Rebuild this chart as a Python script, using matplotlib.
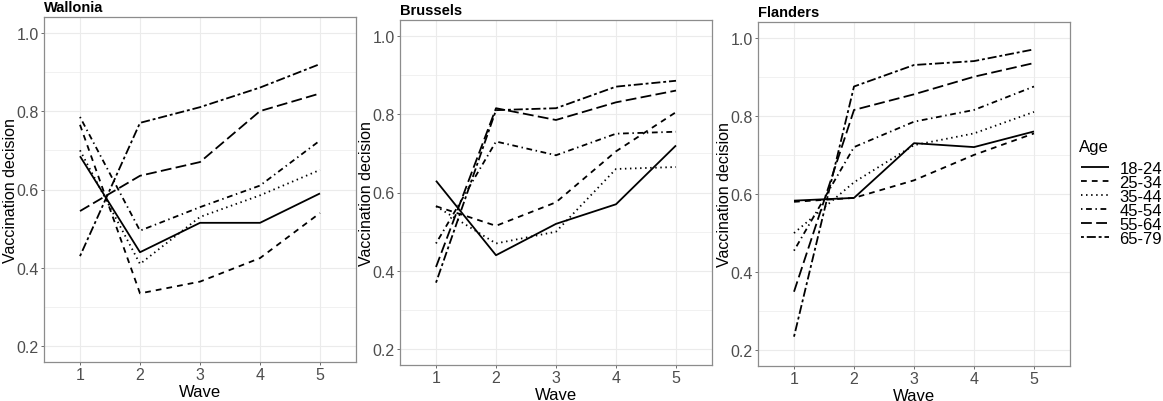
import matplotlib.pyplot as plt
import numpy as np

plt.rcParams['font.family'] = ['Liberation Sans', 'DejaVu Sans']

waves = [1, 2, 3, 4, 5]
ages = ["18-24", "25-34", "35-44", "45-54", "55-64", "65-79"]
regions = ["Wallonia", "Brussels", "Flanders"]

# vaccination decision per age group, waves 1..5
wallonia = {
    "18-24": [0.685, 0.440, 0.515, 0.515, 0.590],
    "25-34": [0.765, 0.335, 0.365, 0.425, 0.540],
    "35-44": [0.700, 0.410, 0.530, 0.585, 0.650],
    "45-54": [0.785, 0.495, 0.555, 0.610, 0.725],
    "55-64": [0.545, 0.635, 0.670, 0.800, 0.845],
    "65-79": [0.430, 0.770, 0.810, 0.860, 0.920],
}
brussels = {
    "18-24": [0.630, 0.440, 0.520, 0.570, 0.720],
    "25-34": [0.565, 0.515, 0.575, 0.705, 0.805],
    "35-44": [0.565, 0.470, 0.500, 0.660, 0.665],
    "45-54": [0.470, 0.730, 0.695, 0.750, 0.755],
    "55-64": [0.410, 0.815, 0.785, 0.830, 0.860],
    "65-79": [0.370, 0.810, 0.815, 0.870, 0.885],
}
flanders = {
    "18-24": [0.583, 0.590, 0.730, 0.720, 0.760],
    "25-34": [0.580, 0.590, 0.635, 0.700, 0.755],
    "35-44": [0.500, 0.630, 0.725, 0.755, 0.810],
    "45-54": [0.455, 0.720, 0.785, 0.815, 0.875],
    "55-64": [0.350, 0.815, 0.855, 0.900, 0.935],
    "65-79": [0.235, 0.875, 0.930, 0.940, 0.970],
}
data = [wallonia, brussels, flanders]

# ggplot-like linetypes
dashes = {
    "18-24": None,
    "25-34": (3.2, 2.8),
    "35-44": (0.8, 2.0),
    "45-54": (0.8, 2.0, 3.2, 2.0),
    "55-64": (6.0, 2.4),
    "65-79": (1.6, 1.6, 5.0, 1.6),
}

W, H = 1163, 402
fig = plt.figure(figsize=(W / 100, H / 100), dpi=100)
boxes = [(44, 39, 312, 345), (400, 36, 312, 345), (758, 35, 312, 344)]

grid_col = "#ebebeb"
txt_col = "#4d4d4d"

axes = []
for region, d, (x0, y0, w, h) in zip(regions, data, boxes):
    ax = fig.add_axes([x0 / W, y0 / H, w / W, h / H])
    for age in ages:
        ln, = ax.plot(waves, d[age], color="black", lw=1.3, label=age,
                      solid_capstyle="butt", dash_capstyle="butt")
        if dashes[age] is not None:
            ln.set_dashes(dashes[age])
    ax.set_xlim(0.4, 5.6)
    ax.set_ylim(0.16, 1.04)
    ax.set_xticks(waves)
    ax.set_yticks([0.2, 0.4, 0.6, 0.8, 1.0])
    ax.set_yticklabels(["0.2", "0.4", "0.6", "0.8", "1.0"])
    ax.set_yticks([0.3, 0.5, 0.7, 0.9], minor=True)
    ax.grid(True, which="major", color=grid_col, lw=0.8)
    ax.grid(True, which="minor", axis="y", color=grid_col, lw=0.5)
    ax.set_axisbelow(True)
    ax.tick_params(which="major", length=2.2, width=0.6, color="#555555",
                   labelcolor=txt_col, labelsize=11.5, pad=1.5)
    ax.tick_params(which="minor", length=0)
    for sp in ax.spines.values():
        sp.set_color("#8c8c8c")
        sp.set_linewidth(0.9)
    ax.set_xlabel("Wave", fontsize=12, labelpad=1)
    ax.set_ylabel("Vaccination decision", fontsize=11.5)
    ax.yaxis.set_label_coords(-0.082, 0.5)
    ax.set_title(region, loc="left", fontweight="bold", fontsize=10.5, pad=4)
    axes.append(ax)

fig.text(1079 / W, 1 - 148 / H, "Age", fontsize=12, ha="left", va="center")
leg = axes[2].legend(loc="upper left", bbox_to_anchor=(1081 / W, 1 - 162 / H),
                     bbox_transform=fig.transFigure, frameon=False, fontsize=12,
                     handlelength=1.65, handletextpad=0.65,
                     labelspacing=-0.06, borderaxespad=0, borderpad=0)

fig.savefig("out.png", dpi=100)
